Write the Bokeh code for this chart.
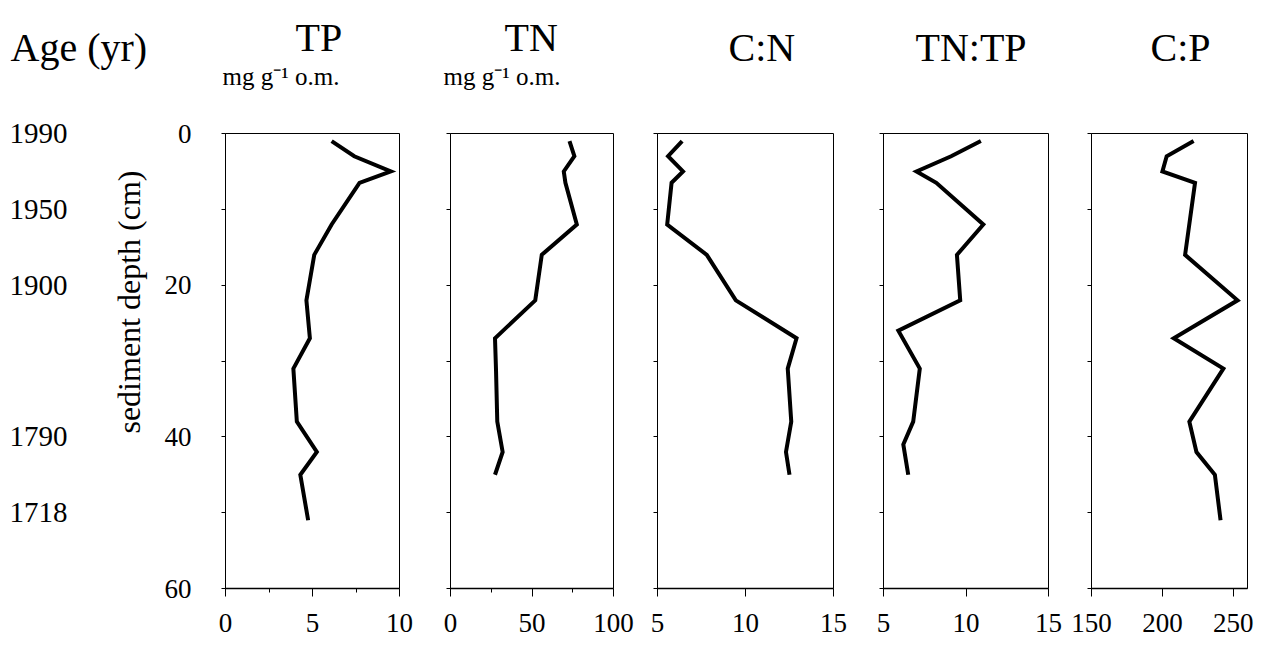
from bokeh.plotting import figure
from bokeh.layouts import row
from bokeh.models import Range1d, FixedTicker, LinearAxis, Title, CustomJSTickFormatter
from bokeh.embed import file_html
from bokeh.resources import INLINE

FONT = "Liberation Serif"
TFONT = "'Liberation Serif'"

# ---------------- data ----------------
panel_titles = ["TP", "TN", "C:N", "TN:TP", "C:P"]
panel_units = ["mg g\u207b\u00b9 o.m.", "mg g\u207b\u00b9 o.m.", "", "", ""]

tp_depth = [1, 3, 5, 6.5, 12, 16, 22, 27, 31, 38, 42, 45, 51]
tp_vals = [6.1, 7.4, 9.5, 7.7, 6.1, 5.1, 4.65, 4.85, 3.9, 4.1, 5.25, 4.3, 4.75]

tn_depth = [1, 3, 5, 6.5, 12, 16, 22, 27, 31, 38, 42, 45]
tn_vals = [73, 76, 69.5, 70.5, 77.5, 56, 52, 27.3, 27.9, 28.7, 32, 27.3]

cn_depth = [1, 3, 5, 6.5, 12, 16, 22, 27, 31, 38, 42, 45]
cn_vals = [6.4, 5.6, 6.45, 5.8, 5.55, 7.8, 9.45, 12.9, 12.4, 12.6, 12.3, 12.5]

ntp_depth = [1, 3, 5, 6.5, 12, 16, 22, 26, 31, 38, 41, 45]
ntp_vals = [10.9, 9.1, 7.0, 8.2, 11.05, 9.45, 9.65, 5.9, 7.2, 6.8, 6.2, 6.5]

cp_depth = [1, 3, 5, 6.5, 16, 22, 27, 31, 38, 42, 45, 51]
cp_vals = [222, 203, 200, 223, 216, 253, 208, 243, 219, 224, 237, 241]

x_ranges = [(0, 10), (0, 100), (5, 15), (5, 15), (150, 260)]
x_ticks = [[0, 5, 10], [0, 50, 100], [5, 10, 15], [5, 10, 15], [150, 200, 250]]
x_minor = [[2.5, 7.5], [25, 75], [], [], []]

depth_ticks = [0, 20, 40, 60]
depth_minor = [10, 30, 50]
age_depth = [0, 10, 20, 40, 50]
age_labels = ["1990", "1950", "1900", "1790", "1718"]

series = [(tp_vals, tp_depth), (tn_vals, tn_depth), (cn_vals, cn_depth),
          (ntp_vals, ntp_depth), (cp_vals, cp_depth)]

# ---------------- layout (style) ----------------
frame_w = [174, 163, 176, 165, 156]
border_l = [74, 26, 22, 25, 23]
border_r = [25, 22, 25, 20, 28]
title_off = [70, 54, 71, 32, 59]       # title start, px from frame left
unit_off = [-3, -7, 0, 0, 0]
FRAME_H = 455
TOP = 133
BOTTOM = 62
TITLE_PX = "40px"
UNIT_PX = "25px"
SUB_STANDOFF = 87
TITLE_STANDOFF = -84


def header(p, title, title_offset, unit_text, unit_offset):
    """Subtitle row (or a blank row of the same size) and the title above it."""
    if unit_text:
        sub = Title(text=unit_text, align="left", offset=unit_offset, standoff=SUB_STANDOFF,
                    text_font=TFONT, text_font_size=UNIT_PX, text_font_style="normal",
                    text_color="black")
    else:
        # blank row (white on white) that reserves the subtitle row's height
        sub = Title(text=".", align="left", offset=title_offset, standoff=SUB_STANDOFF,
                    text_font=TFONT, text_font_size=UNIT_PX, text_font_style="normal",
                    text_color="white")
    p.add_layout(sub, "above")
    p.add_layout(Title(text=title, align="left", offset=title_offset, standoff=TITLE_STANDOFF,
                       text_font=TFONT, text_font_size=TITLE_PX, text_font_style="normal",
                       text_color="black"), "above")


y_range = Range1d(60, 0)

# ---- column of ages + depth axis label ----
p0 = figure(frame_width=1, frame_height=FRAME_H, min_border_left=150, min_border_right=0,
            min_border_top=TOP, min_border_bottom=BOTTOM,
            x_range=Range1d(0, 1), y_range=y_range, x_axis_location=None, y_axis_location=None,
            output_backend="svg", toolbar_location=None, tools="")
p0.grid.visible = False
p0.outline_line_color = None
p0.add_layout(Title(text="sediment depth (cm)", align="right", offset=37, standoff=8,
                    text_font=TFONT, text_font_size="32px", text_font_style="normal",
                    text_color="black"), "left")
age_axis = LinearAxis(ticker=FixedTicker(ticks=age_depth),
                      major_label_overrides={d: a for d, a in zip(age_depth, age_labels)})
age_axis.axis_line_color = None
age_axis.major_tick_line_color = None
age_axis.minor_tick_line_color = None
age_axis.major_label_standoff = 31
age_axis.major_label_text_font = FONT
age_axis.major_label_text_font_size = "29px"
age_axis.major_label_text_color = "black"
p0.add_layout(age_axis, "left")
header(p0, "Age (yr)", -140, "", 0)

figs = [p0]
for i in range(5):
    p = figure(frame_width=frame_w[i], frame_height=FRAME_H,
               min_border_left=border_l[i], min_border_right=border_r[i],
               min_border_top=TOP, min_border_bottom=BOTTOM,
               x_range=Range1d(*x_ranges[i]), y_range=y_range,
               output_backend="svg", toolbar_location=None, tools="")
    p.grid.visible = False
    p.outline_line_color = "black"
    p.outline_line_width = 1

    xa = p.xaxis[0]
    xa.ticker = FixedTicker(ticks=x_ticks[i], minor_ticks=x_minor[i])
    xa.major_tick_out = 8
    xa.major_tick_in = 0
    xa.minor_tick_out = 4
    xa.minor_tick_in = 0
    xa.axis_line_width = 1.5
    xa.major_label_standoff = 17
    xa.major_label_text_font = FONT
    xa.major_label_text_font_size = "27px"
    xa.major_label_text_color = "black"

    ya = p.yaxis[0]
    ya.ticker = FixedTicker(ticks=depth_ticks, minor_ticks=depth_minor)
    ya.major_tick_out = 4
    ya.major_tick_in = 0
    ya.minor_tick_out = 4
    ya.minor_tick_in = 0
    ya.axis_line_width = 1
    if i == 0:
        ya.major_label_standoff = 30
        ya.major_label_text_font = FONT
        ya.major_label_text_font_size = "27px"
        ya.major_label_text_color = "black"
    else:
        ya.major_label_standoff = 0
        ya.formatter = CustomJSTickFormatter(code="return ''")

    header(p, panel_titles[i], title_off[i], panel_units[i], unit_off[i])

    vals, dep = series[i]
    p.line(x=vals, y=dep, line_width=4, color="black", line_join="miter")
    figs.append(p)

layout = row(*figs, spacing=0)
open("out.html", "w").write(file_html(layout, INLINE))
